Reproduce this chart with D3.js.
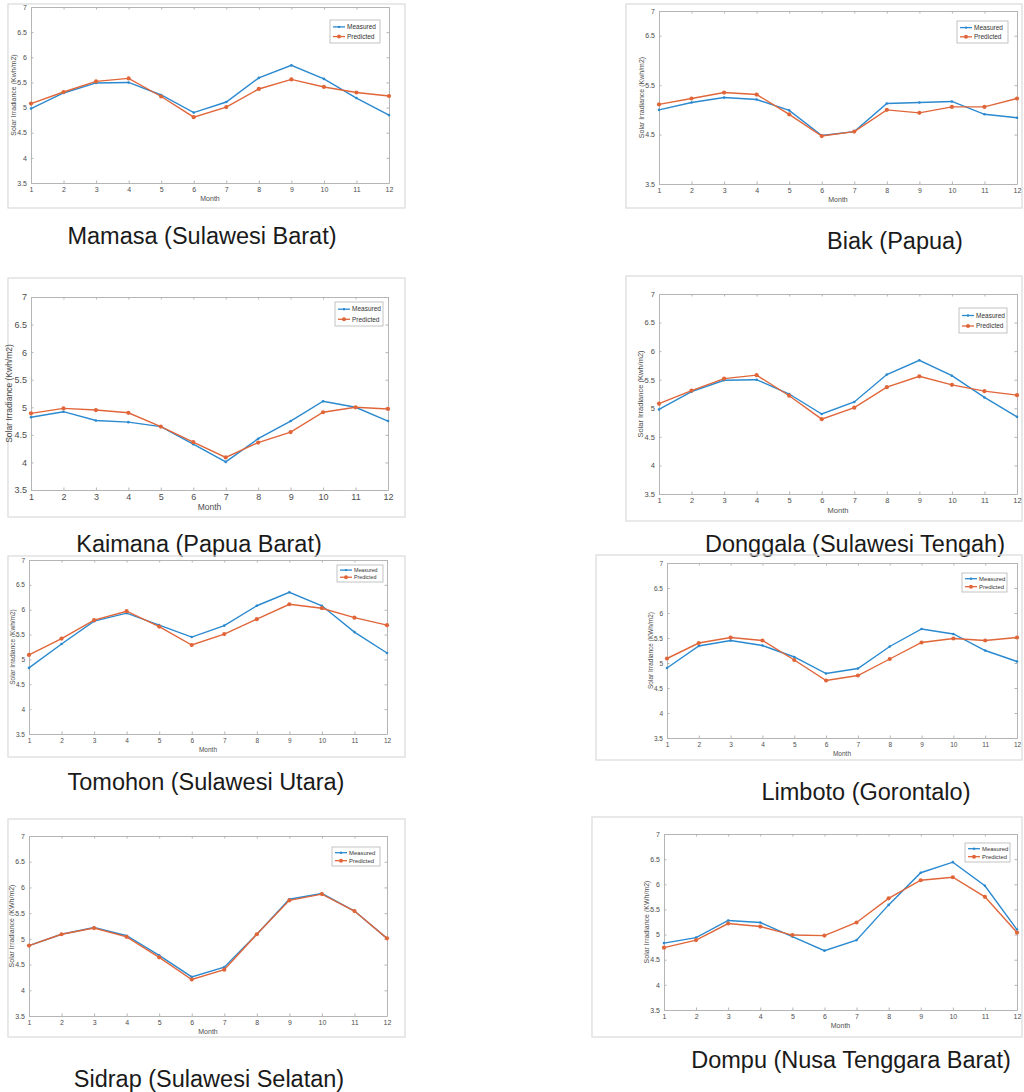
<!DOCTYPE html>
<html>
<head>
<meta charset="utf-8">
<script src="https://cdn.jsdelivr.net/npm/d3@7"></script>
<style>
  body { margin: 0; background: #fff; }
  svg { display: block; }
  .tick text { fill: #4d4d4d; }
</style>
</head>
<body>
<div id="chart"></div>
<script>
const months = [1, 2, 3, 4, 5, 6, 7, 8, 9, 10, 11, 12];
const yTicksFull = [3.5, 4, 4.5, 5, 5.5, 6, 6.5, 7];
const yTicksBiak = [3.5, 4.5, 5.5, 6.5, 7];
const seriesNames = ["Measured", "Predicted"];

const mamasaMeasured   = [4.98, 5.29, 5.49, 5.50, 5.25, 4.90, 5.11, 5.59, 5.84, 5.57, 5.19, 4.85];
const mamasaPredicted  = [5.08, 5.31, 5.52, 5.58, 5.22, 4.81, 5.01, 5.37, 5.56, 5.41, 5.30, 5.23];
const biakMeasured     = [5.00, 5.15, 5.25, 5.21, 4.99, 4.48, 4.56, 5.13, 5.15, 5.17, 4.91, 4.84];
const biakPredicted    = [5.11, 5.23, 5.35, 5.31, 4.91, 4.47, 4.56, 5.00, 4.94, 5.06, 5.06, 5.23];
const kaimanaMeasured  = [4.82, 4.92, 4.76, 4.73, 4.65, 4.33, 4.01, 4.43, 4.75, 5.11, 5.00, 4.75];
const kaimanaPredicted = [4.89, 4.98, 4.95, 4.90, 4.65, 4.37, 4.09, 4.36, 4.55, 4.91, 5.00, 4.97];
const donggalaMeasured  = [4.98, 5.29, 5.49, 5.50, 5.25, 4.90, 5.11, 5.59, 5.84, 5.57, 5.19, 4.85];
const donggalaPredicted = [5.08, 5.31, 5.52, 5.58, 5.22, 4.81, 5.01, 5.37, 5.56, 5.41, 5.30, 5.23];
const tomohonMeasured  = [4.83, 5.31, 5.77, 5.93, 5.69, 5.45, 5.68, 6.08, 6.35, 6.08, 5.55, 5.13];
const tomohonPredicted = [5.09, 5.42, 5.79, 5.97, 5.66, 5.29, 5.51, 5.81, 6.11, 6.03, 5.84, 5.69];
const limbotoMeasured  = [4.90, 5.34, 5.45, 5.35, 5.12, 4.79, 4.89, 5.33, 5.68, 5.58, 5.25, 5.03];
const limbotoPredicted = [5.09, 5.40, 5.51, 5.45, 5.06, 4.65, 4.75, 5.08, 5.41, 5.49, 5.45, 5.51];
const sidrapMeasured   = [4.87, 5.09, 5.22, 5.06, 4.68, 4.26, 4.45, 5.09, 5.77, 5.88, 5.54, 5.01];
const sidrapPredicted  = [4.87, 5.09, 5.21, 5.04, 4.64, 4.21, 4.40, 5.09, 5.75, 5.87, 5.54, 5.01];
const dompuMeasured    = [4.83, 4.94, 5.28, 5.24, 4.96, 4.68, 4.89, 5.59, 6.23, 6.44, 5.97, 5.10];
const dompuPredicted   = [4.74, 4.89, 5.22, 5.16, 4.99, 4.98, 5.24, 5.72, 6.08, 6.14, 5.75, 5.04];

const blue = "#2a89cf";
const orange = "#e0663a";

// layout of each screenshot panel
const panels = [
  { title: "Mamasa (Sulawesi Barat)", ylab: "Solar Irradiance (Kwh/m2)", m: mamasaMeasured, p: mamasaPredicted, yt: yTicksFull,
    frame: [8, 4, 405, 208], plot: [31, 7, 389, 183], legend: [330, 20, 50, 23], fs: 7, ls: 7, cap: [202, 244] },
  { title: "Biak (Papua)", ylab: "Solar Irradiance (Kwh/m2)", m: biakMeasured, p: biakPredicted, yt: yTicksBiak,
    frame: [626, 4, 1022, 208], plot: [659, 11, 1017, 184], legend: [957, 21, 51, 22], fs: 7, ls: 7, cap: [895, 249] },
  { title: "Kaimana (Papua Barat)", ylab: "Solar Irradiance (Kwh/m2)", m: kaimanaMeasured, p: kaimanaPredicted, yt: yTicksFull,
    frame: [8, 278, 405, 517], plot: [31, 297, 388, 490], legend: [335, 302, 48, 24], fs: 9, ls: 8.5, cap: [199, 552] },
  { title: "Donggala (Sulawesi Tengah)", ylab: "Solar Irradiance (Kwh/m2)", m: donggalaMeasured, p: donggalaPredicted, yt: yTicksFull,
    frame: [626, 276, 1022, 521], plot: [659, 294, 1017, 494], legend: [959, 308, 48, 25], fs: 7.5, ls: 7.5, cap: [855, 552] },
  { title: "Tomohon (Sulawesi Utara)", ylab: "Solar Irradiance (Kwh/m2)", m: tomohonMeasured, p: tomohonPredicted, yt: yTicksFull,
    frame: [8, 556, 405, 757], plot: [29, 560, 387, 734], legend: [337, 565, 46, 17], fs: 6.5, ls: 6.5, cap: [206, 790] },
  { title: "Limboto (Gorontalo)", ylab: "Solar Irradiance (KWh/m2)", m: limbotoMeasured, p: limbotoPredicted, yt: yTicksFull,
    frame: [596, 555, 1022, 760], plot: [667, 563, 1017, 738], legend: [962, 573, 45, 19], fs: 6.5, ls: 6.5, cap: [866, 800] },
  { title: "Sidrap (Sulawesi Selatan)", ylab: "Solar Irradiance (KWh/m2)", m: sidrapMeasured, p: sidrapPredicted, yt: yTicksFull,
    frame: [8, 819, 405, 1037], plot: [29, 836, 387, 1016], legend: [332, 847, 48, 19], fs: 7, ls: 7, cap: [209, 1087] },
  { title: "Dompu (Nusa Tenggara Barat)", ylab: "Solar Irradiance (KWh/m2)", m: dompuMeasured, p: dompuPredicted, yt: yTicksFull,
    frame: [592, 817, 1022, 1037], plot: [664, 834, 1017, 1010], legend: [965, 843, 45, 19], fs: 7, ls: 7, cap: [851, 1068] }
];

const svg = d3.select("#chart").append("svg")
  .attr("width", 1024)
  .attr("height", 1092)
  .style("font-family", "'Liberation Sans', Arial, sans-serif");

svg.append("rect").attr("width", 1024).attr("height", 1092).attr("fill", "#fff");

panels.forEach(drawPanel);

function drawPanel(c) {
  const [fx0, fy0, fx1, fy1] = c.frame;
  const [px0, py0, px1, py1] = c.plot;

  // screenshot border
  svg.append("rect")
    .attr("x", fx0).attr("y", fy0)
    .attr("width", fx1 - fx0).attr("height", fy1 - fy0)
    .attr("fill", "none").attr("stroke", "#dadada").attr("stroke-width", 1.2);

  const x = d3.scaleLinear().domain([1, 12]).range([px0, px1]);
  const y = d3.scaleLinear().domain([3.5, 7]).range([py1, py0]);

  const g = svg.append("g");

  const styleAxis = sel => {
    sel.select(".domain").attr("stroke", "#b5b5b5");
    sel.selectAll(".tick line").attr("stroke", "#b5b5b5");
    sel.selectAll("text").style("font-size", c.fs + "px").attr("fill", "#4d4d4d");
  };

  g.append("g").attr("transform", `translate(0,${py1})`)
    .call(d3.axisBottom(x).tickValues(months).tickFormat(d3.format("d")).tickSizeInner(-2.5).tickSizeOuter(0).tickPadding(4))
    .call(styleAxis);
  g.append("g").attr("transform", `translate(0,${py0})`)
    .call(d3.axisTop(x).tickValues(months).tickFormat("").tickSizeInner(-2.5).tickSizeOuter(0))
    .call(styleAxis);
  g.append("g").attr("transform", `translate(${px0},0)`)
    .call(d3.axisLeft(y).tickValues(c.yt).tickFormat(d3.format("")).tickSizeInner(-2.5).tickSizeOuter(0).tickPadding(4))
    .call(styleAxis);
  g.append("g").attr("transform", `translate(${px1},0)`)
    .call(d3.axisRight(y).tickValues(c.yt).tickFormat("").tickSizeInner(-2.5).tickSizeOuter(0))
    .call(styleAxis);

  // axis titles
  g.append("text")
    .attr("x", (px0 + px1) / 2).attr("y", py1 + c.fs + 11)
    .attr("text-anchor", "middle")
    .style("font-size", c.ls + "px").attr("fill", "#4d4d4d")
    .text("Month");
  g.append("text")
    .attr("transform", `translate(${px0 - c.fs * 2 - 1},${(py0 + py1) / 2}) rotate(-90)`)
    .attr("text-anchor", "middle")
    .style("font-size", c.ls + "px").attr("fill", "#4d4d4d")
    .text(c.ylab);

  const line = d3.line().x((d, i) => x(months[i])).y(d => y(d));

  // measured first, predicted drawn on top
  g.append("path").datum(c.m).attr("d", line)
    .attr("fill", "none").attr("stroke", blue).attr("stroke-width", 1.4);
  g.selectAll(null).data(c.m).enter().append("circle")
    .attr("cx", (d, i) => x(months[i])).attr("cy", d => y(d))
    .attr("r", 1.3).attr("fill", blue);

  g.append("path").datum(c.p).attr("d", line)
    .attr("fill", "none").attr("stroke", orange).attr("stroke-width", 1.4);
  g.selectAll(null).data(c.p).enter().append("circle")
    .attr("cx", (d, i) => x(months[i])).attr("cy", d => y(d))
    .attr("r", 2.1).attr("fill", orange);

  // legend
  const [lx, ly, lw, lh] = c.legend;
  const lg = g.append("g");
  lg.append("rect").attr("x", lx).attr("y", ly).attr("width", lw).attr("height", lh)
    .attr("fill", "#fff").attr("stroke", "#b5b5b5").attr("stroke-width", 0.8);
  const lfs = Math.min(lh / 3.2, 6.5);
  seriesNames.forEach((name, i) => {
    const yy = ly + lh * (i === 0 ? 0.3 : 0.72);
    const col = i === 0 ? blue : orange;
    lg.append("line").attr("x1", lx + 3).attr("x2", lx + 15).attr("y1", yy).attr("y2", yy)
      .attr("stroke", col).attr("stroke-width", 1.3);
    lg.append("circle").attr("cx", lx + 9).attr("cy", yy).attr("r", i === 0 ? 1.2 : 2).attr("fill", col);
    lg.append("text").attr("x", lx + 17).attr("y", yy).attr("dy", "0.35em")
      .style("font-size", lfs + "px").attr("fill", "#333")
      .text(name);
  });

  // caption under the screenshot
  svg.append("text")
    .attr("x", c.cap[0]).attr("y", c.cap[1])
    .attr("text-anchor", "middle")
    .style("font-size", "23.5px").attr("fill", "#1a1a1a")
    .text(c.title);
}
</script>
</body>
</html>
